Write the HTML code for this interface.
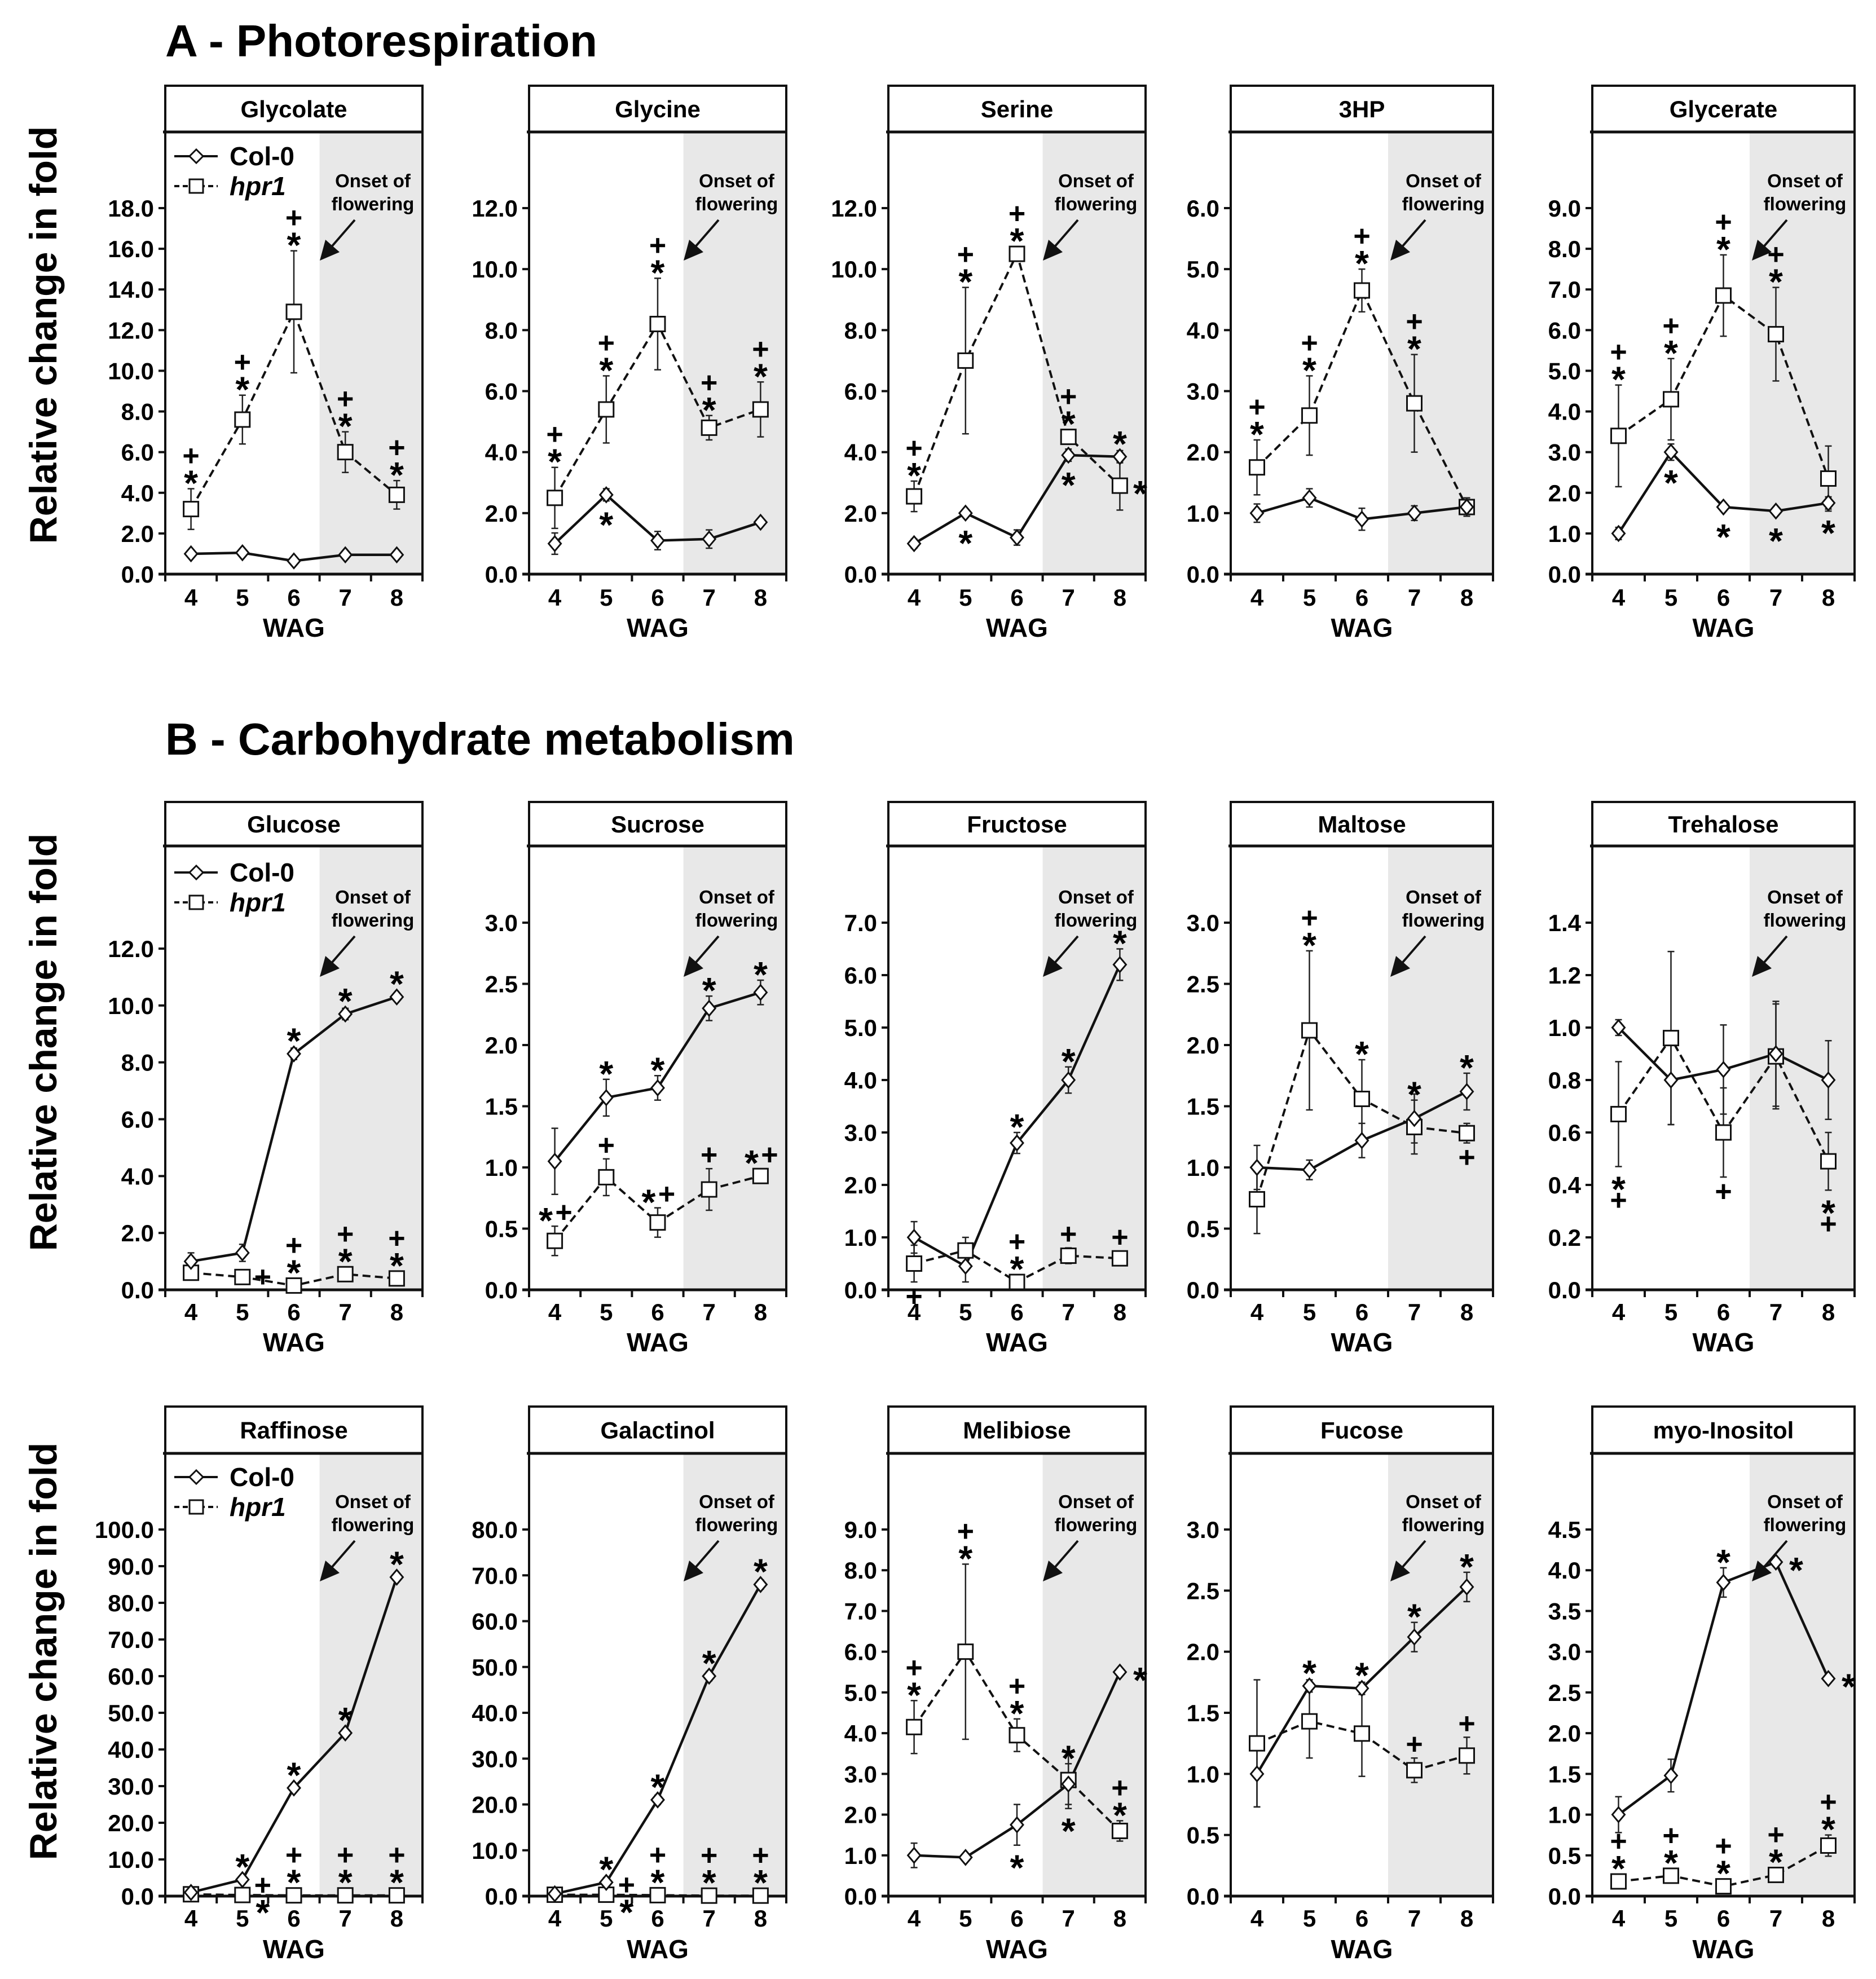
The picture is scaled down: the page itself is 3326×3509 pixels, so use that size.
<!DOCTYPE html>
<html><head><meta charset="utf-8">
<style>
html,body{margin:0;padding:0;background:#fff;}
svg{display:block;font-family:"Liberation Sans",Arial,sans-serif;}
</style></head>
<body>
<svg id="fig" xmlns="http://www.w3.org/2000/svg" width="3326" height="3509" viewBox="0 0 3326 3509"></svg>
<script>
const categories=[4,5,6,7,8];
const panelTitles=["Glycolate","Glycine","Serine","3HP","Glycerate","Glucose","Sucrose","Fructose","Maltose","Trehalose","Raffinose","Galactinol","Melibiose","Fucose","myo-Inositol"];
const tickMax=[18,12,12,6,9,12,3,7,3,1.4,100,80,9,3,4.5];
const tickStep=[2,2,2,1,1,2,0.5,1,0.5,0.2,10,10,1,0.5,0.5];
const colMeans=[[1,1.05,0.65,0.95,0.95],[1.0,2.6,1.1,1.15,1.7],[1.0,2.0,1.2,3.9,3.85],[1.0,1.25,0.9,1.0,1.1],[1.0,3.0,1.65,1.55,1.75],
[1.0,1.3,8.3,9.7,10.3],[1.05,1.57,1.65,2.3,2.43],[1.0,0.45,2.8,4.0,6.2],[1.0,0.98,1.22,1.4,1.62],[1.0,0.8,0.84,0.9,0.8],
[1,4.5,29.5,44.5,87],[0.5,3,21,48,68],[1.0,0.95,1.75,2.75,5.5],[1.0,1.72,1.7,2.12,2.53],[1.0,1.48,3.85,4.1,2.67]];
const colErr=[[0.1,0.1,0.1,0.1,0.1],[0.35,0.2,0.3,0.3,0.1],[0.15,0.1,0.25,0.2,0.2],[0.15,0.15,0.18,0.12,0.15],[0.15,0.2,0.1,0.05,0.15],
[0.3,0.3,0.2,0.2,0.1],[0.27,0.15,0.1,0.1,0.1],[0.3,0.3,0.2,0.25,0.3],[0.18,0.08,0.14,0.2,0.15],[0.03,0.17,0.17,0.2,0.15],
[0.5,1,1,1,1],[0.5,1,1,1,1],[0.3,0.05,0.5,0.5,0.05],[0.27,0.05,0.05,0.12,0.12],[0.22,0.2,0.18,0.05,0.05]];
const hprMeans=[[3.2,7.6,12.9,6.0,3.9],[2.5,5.4,8.2,4.8,5.4],[2.55,7.0,10.5,4.5,2.9],[1.75,2.6,4.65,2.8,1.1],[3.4,4.3,6.85,5.9,2.35],
[0.6,0.45,0.15,0.55,0.4],[0.4,0.92,0.55,0.82,0.93],[0.5,0.75,0.15,0.65,0.6],[0.74,2.12,1.56,1.33,1.28],[0.67,0.96,0.6,0.89,0.49],
[0.5,0.3,0.2,0.2,0.2],[0.3,0.3,0.2,0.1,0.1],[4.15,6.0,3.95,2.85,1.6],[1.25,1.43,1.33,1.03,1.15],[0.18,0.25,0.12,0.26,0.62]];
const hprErr=[[1,1.2,3,1,0.7],[1.0,1.1,1.5,0.4,0.9],[0.5,2.4,0.1,0.2,0.8],[0.45,0.65,0.35,0.8,0.15],[1.25,1.0,1.0,1.15,0.8],
[0.15,0.1,0.05,0.1,0.05],[0.12,0.15,0.12,0.17,0.05],[0.35,0.25,0.1,0.15,0.1],[0.28,0.65,0.32,0.22,0.08],[0.2,0.33,0.17,0.2,0.11],
[0.3,0.2,0.1,0.1,0.1],[0.3,0.2,0.1,0.1,0.1],[0.65,2.15,0.4,0.7,0.25],[0.52,0.3,0.35,0.1,0.15],[0.05,0.05,0.03,0.05,0.13]];
const colMarks=[["","","","",""],["","b*","","",""],["","b*","","b*","a*"],["","","","",""],["","b*","b*","b*","b*"],
["","","a*","a*","a*"],["","a*","a*","a*","a*"],["","","a*","a*","a*"],["","","","","a*"],["","","","",""],
["","a*","a*","a*","a*"],["","a*","a*","a*","a*"],["","","b*","a*","r*"],["","a*","a*","a*","a*"],["","","a*","r*","r*"]];
const hprMarks=[["a+*","a+*","a+*","a+*","a+*"],["a+*","a+*","a+*","a+*","a+*"],["a+*","a+*","a+*","a+*","r*"],["a+*","a+*","a+*","a+*",""],["a+*","a+*","a+*","a+*",""],
["","r+","a+*","a+*","a+*"],["h*+","a+","h*+","a+","h*+"],["b+","","a+*","a+","a+"],["","a+*","a*","a*","b+"],["b*+","","b+","","b*+"],
["","r+*","a+*","a+*","a+*"],["","r+*","a+*","a+*","a+*"],["a+*","a+*","a+*","b*","a+*"],["","","","a+","a+"],["a+*","a+*","a+*","a+*","a+*"]];

const NS="http://www.w3.org/2000/svg";
const svg=document.getElementById('fig');
function mk(tag,attrs,parent){const e=document.createElementNS(NS,tag);for(const k in attrs)e.setAttribute(k,attrs[k]);(parent||svg).appendChild(e);return e;}
function txt(s,attrs,parent){const e=mk('text',attrs,parent);e.textContent=s;return e;}

const colLeft=[293,938,1575,2182,2823];
const colWidth=[456,456,456,465,465];
const rowTop=[152,1422,2494];
const rowHeader=[234,1500,2577];
const rowAxis=[1018,2287,3362];
const rowTopTick=[369,1636,2712];

let t=txt("A - Photorespiration",{x:293,y:100,'font-size':80,'font-weight':'bold'});

t=txt("B - Carbohydrate metabolism",{x:293,y:1338,'font-size':80,'font-weight':'bold'});

const ylabY=[594,1848,2928];
ylabY.forEach((yy,i)=>{
  const e=txt("Relative change in fold",{x:0,y:0,'font-size':68,'font-weight':'bold','text-anchor':'middle',transform:`translate(100,${yy}) rotate(-90)`});
  
  
});

function drawMarks(g,str,x,yTop,yBot,yMid){
  if(!str)return;
  const kind=str[0],chars=str.slice(1).split('');
  const put=(c,cx,cy)=>{
    const e=txt(c,{x:cx,y:cy+(c==='*'?36:17),'font-size':c==='*'?64:52,'font-weight':'bold','text-anchor':'middle'},g);
    
    
  };
  if(kind==='a'){const n=chars.length;chars.forEach((c,i)=>put(c,x,yTop-24-(n-1-i)*34));}
  else if(kind==='b'){chars.forEach((c,i)=>put(c,x,yBot+26+i*34));}
  else if(kind==='r'){const n=chars.length;chars.forEach((c,i)=>put(c,x+36,yMid-(n-1)*17+i*34));}
  else if(kind==='h'){const n=chars.length;chars.forEach((c,i)=>put(c,x-(n-1)*16+i*32,yTop-24));}
}

for(let p=0;p<15;p++){
  const r=Math.floor(p/5),c=p%5;
  const L=colLeft[c],W=colWidth[c],R=L+W,T=rowTop[r],H=rowHeader[r],A=rowAxis[r];
  let topTickY=rowTopTick[r];
  if(p===5)topTickY=1682;
  const g=mk('g',{});
  
  
  const cell=W/5;
  const xs=i=>L+cell*(i+0.5);
  const ys=v=>A-(v/tickMax[p])*(A-topTickY);
  const sh=mk('rect',{x:L+cell*3,y:H,width:W-cell*3,height:A-H,fill:'#e8e8e8'},g);
  
  const fr=mk('rect',{x:L,y:T,width:W,height:A-T,fill:'none',stroke:'#111','stroke-width':4},g);
  
  const hl=mk('line',{x1:L-4,y1:H,x2:R,y2:H,stroke:'#111','stroke-width':5},g);
  
  const ti=txt(panelTitles[p],{x:L+W/2,y:(T+H)/2+15,'font-size':42,'font-weight':'bold','text-anchor':'middle'},g);
  
  const ax=mk('line',{x1:L-12,y1:A,x2:R,y2:A,stroke:'#111','stroke-width':5},g);
  
  for(let i=0;i<=5;i++){mk('line',{x1:L+cell*i,y1:A,x2:L+cell*i,y2:A+13,stroke:'#111','stroke-width':4},g);}
  categories.forEach((v,i)=>{
    const e=txt(String(v),{x:xs(i),y:r===0?1074:(r===1?2341:3416),'font-size':42,'font-weight':'bold','text-anchor':'middle'},g);
    
    
  });
  const wl=txt("WAG",{x:L+W/2,y:r===0?1129:(r===1?2396:3472),'font-size':46,'font-weight':'bold','text-anchor':'middle'},g);
  
  const n=Math.round(tickMax[p]/tickStep[p]);
  for(let k=0;k<=n;k++){
    const v=k*tickStep[p],y=ys(v);
    mk('line',{x1:L-12,y1:y,x2:L,y2:y,stroke:'#111','stroke-width':4},g);
    const e=txt(v.toFixed(1),{x:L-20,y:y+15,'font-size':42,'font-weight':'bold','text-anchor':'end'},g);
    
    
  }
  const o1=txt("Onset of",{x:R-88,y:T+180,'font-size':33,'font-weight':'bold','text-anchor':'middle'},g);
  
  const o2=txt("flowering",{x:R-88,y:T+221,'font-size':33,'font-weight':'bold','text-anchor':'middle'},g);
  
  const arx=R-120,ary=T+238,hx=R-182,hy=T+310;
  const ar=mk('line',{x1:arx,y1:ary,x2:hx+16,y2:hy-19,stroke:'#111','stroke-width':4},g);
  
  const ah=mk('polygon',{points:`${hx},${hy} ${hx+10},${hy-37} ${hx+35},${hy-15}`,fill:'#111'},g);
  
  if(c===0){
    const ly1=T+125,ly2=T+178;
    mk('line',{x1:L+16,y1:ly1,x2:L+93,y2:ly1,stroke:'#111','stroke-width':4},g);
    mk('polygon',{points:`${L+55},${ly1-12} ${L+67},${ly1} ${L+55},${ly1+12} ${L+43},${ly1}`,fill:'#fff',stroke:'#111','stroke-width':3},g);
    mk('line',{x1:L+16,y1:ly2,x2:L+93,y2:ly2,stroke:'#111','stroke-width':4,'stroke-dasharray':'9,6'},g);
    mk('rect',{x:L+43,y:ly2-12,width:24,height:24,fill:'#fff',stroke:'#111','stroke-width':3},g);
    const l1=txt("Col-0",{x:L+114,y:ly1+16,'font-size':46,'font-weight':'bold'},g);
    
    const l2=txt("hpr1",{x:L+114,y:ly2+16,'font-size':46,'font-weight':'bold','font-style':'italic'},g);
    
  }
  const dHpr=hprMeans[p].map((v,i)=>(i?'L':'M')+xs(i)+','+ys(v)).join(' ');
  const lh=mk('path',{d:dHpr,fill:'none',stroke:'#111','stroke-width':4,'stroke-dasharray':'14,8'},g);
  
  const dCol=colMeans[p].map((v,i)=>(i?'L':'M')+xs(i)+','+ys(v)).join(' ');
  const lc=mk('path',{d:dCol,fill:'none',stroke:'#111','stroke-width':4.5},g);
  
  [[hprMeans[p],hprErr[p]],[colMeans[p],colErr[p]]].forEach(([m,e])=>{
    m.forEach((v,i)=>{
      const x=xs(i),y1=ys(v+e[i]),y2=ys(Math.max(0,v-e[i]));
      mk('line',{x1:x,y1:y1,x2:x,y2:y2,stroke:'#222','stroke-width':2.5},g);
      mk('line',{x1:x-6,y1:y1,x2:x+6,y2:y1,stroke:'#222','stroke-width':2.5},g);
      mk('line',{x1:x-6,y1:y2,x2:x+6,y2:y2,stroke:'#222','stroke-width':2.5},g);
    });
  });
  hprMeans[p].forEach((v,i)=>{
    const x=xs(i),y=ys(v);
    const e=mk('rect',{x:x-13,y:y-13,width:26,height:26,fill:'#fff',stroke:'#111','stroke-width':3},g);
    
    
  });
  colMeans[p].forEach((v,i)=>{
    const x=xs(i),y=ys(v);
    const e=mk('polygon',{points:`${x},${y-13} ${x+11},${y} ${x},${y+13} ${x-11},${y}`,fill:'#fff',stroke:'#111','stroke-width':3},g);
    
    
  });
  hprMeans[p].forEach((v,i)=>{
    const y=ys(v),yt=Math.min(ys(v+hprErr[p][i]),y-13),yb=Math.max(ys(Math.max(0,v-hprErr[p][i])),y+13);
    drawMarks(g,hprMarks[p][i],xs(i),yt,yb,y);
  });
  colMeans[p].forEach((v,i)=>{
    const y=ys(v),yt=Math.min(ys(v+colErr[p][i]),y-13),yb=Math.max(ys(Math.max(0,v-colErr[p][i])),y+13);
    drawMarks(g,colMarks[p][i],xs(i),yt,yb,y);
  });
}
</script>
</body></html>
